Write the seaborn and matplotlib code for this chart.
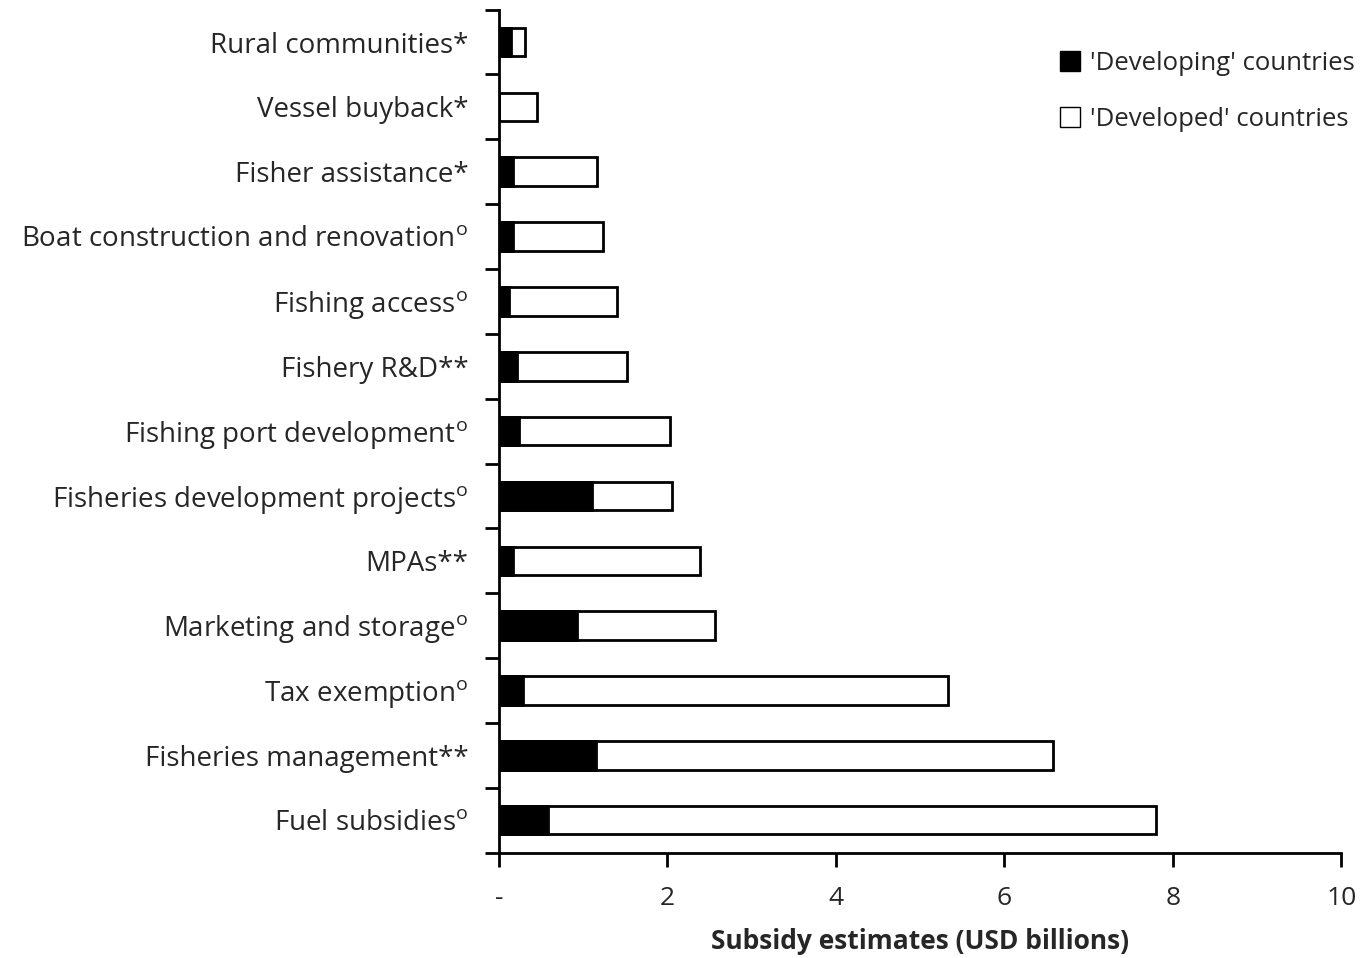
import pandas as pd
import seaborn as sns
import matplotlib.pyplot as plt
from matplotlib.lines import Line2D
from matplotlib.ticker import FixedLocator

sns.set_theme(style="white")
plt.rcParams["font.family"] = ["Open Sans", "DejaVu Sans"]
plt.rcParams["mathtext.fontset"] = "custom"
plt.rcParams["mathtext.rm"] = "Open Sans"

# data (USD billions), top to bottom
categories = ["Rural communities*", "Vessel buyback*", "Fisher assistance*",
              "Boat construction and renovation$^{\\mathregular{o}}$",
              "Fishing access$^{\\mathregular{o}}$", "Fishery R&D**",
              "Fishing port development$^{\\mathregular{o}}$",
              "Fisheries development projects$^{\\mathregular{o}}$", "MPAs**",
              "Marketing and storage$^{\\mathregular{o}}$",
              "Tax exemption$^{\\mathregular{o}}$", "Fisheries management**",
              "Fuel subsidies$^{\\mathregular{o}}$"]
developing = [0.14, 0.0, 0.17, 0.17, 0.12, 0.21, 0.24, 1.10, 0.17, 0.93, 0.29, 1.15, 0.58]
developed = [0.17, 0.45, 0.99, 1.07, 1.28, 1.31, 1.79, 0.96, 2.22, 1.64, 5.04, 5.43, 7.22]

df = pd.DataFrame({"cat": categories, "developing": developing, "developed": developed})
df["total"] = df.developing + df.developed

fig, ax = plt.subplots(figsize=(13.63, 9.58), dpi=100)
fig.subplots_adjust(left=0.366, right=0.984, top=0.99, bottom=0.11)

sns.barplot(data=df, y="cat", x="total", color="white", edgecolor="black",
            linewidth=2, width=0.44, saturation=1, ax=ax, orient="h")
sns.barplot(data=df, y="cat", x="developing", color="black", edgecolor="black",
            linewidth=2, width=0.44, saturation=1, ax=ax, orient="h")

ax.set_xlim(0, 10)
ax.set_ylim(12.5, -0.5)
ax.set_xticks([0, 2, 4, 6, 8, 10])
ax.set_xticklabels(["-", "2", "4", "6", "8", "10"])
ax.yaxis.set_minor_locator(FixedLocator([i + 0.5 for i in range(-1, 13)]))
ax.tick_params(axis="y", which="major", length=0, labelsize=20, pad=22)
ax.tick_params(axis="y", which="minor", length=10, width=2, color="black", left=True)
ax.tick_params(axis="x", which="major", length=10, width=2, color="black",
               bottom=True, labelsize=19, pad=14)
for s in ["top", "right"]:
    ax.spines[s].set_visible(False)
for s in ["left", "bottom"]:
    ax.spines[s].set_color("black")
    ax.spines[s].set_linewidth(2)

ax.set_ylabel("")
ax.set_xlabel("Subsidy estimates (USD billions)", fontsize=19, fontweight="bold", labelpad=12)

handles = [
    Line2D([], [], marker="s", ls="", markersize=14, markerfacecolor="black",
           markeredgecolor="black", label="'Developing' countries"),
    Line2D([], [], marker="s", ls="", markersize=14, markerfacecolor="white",
           markeredgecolor="black", label="'Developed' countries"),
]
ax.legend(handles=handles, loc="upper right", bbox_to_anchor=(1.044, 0.978), frameon=False,
          fontsize=18.5, handletextpad=0.2, labelspacing=1.2, handlelength=1.2)

fig.savefig("out.png", dpi=100)
